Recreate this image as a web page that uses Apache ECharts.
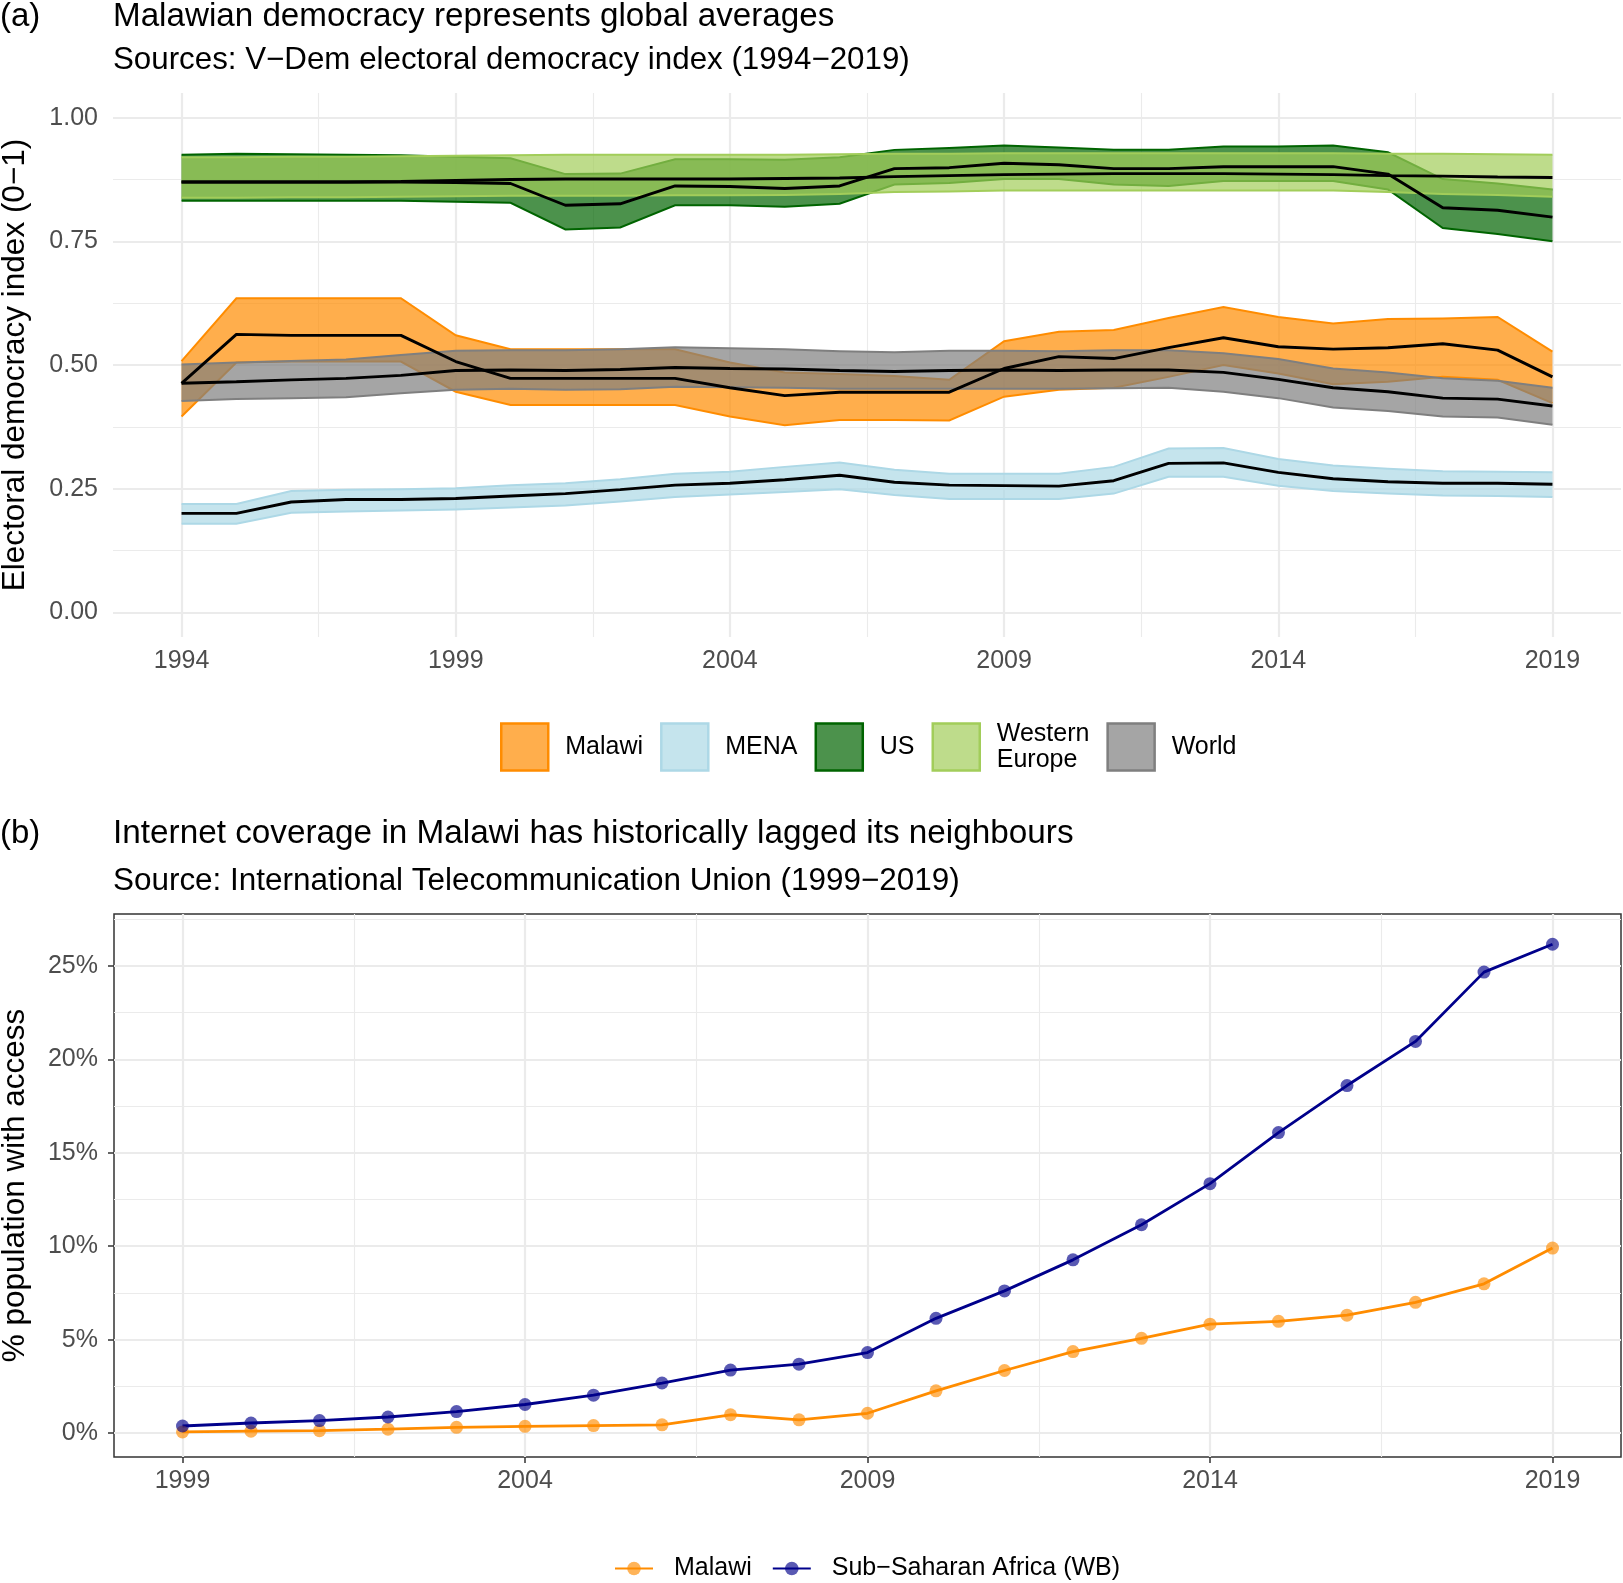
<!DOCTYPE html>
<html>
<head>
<meta charset="utf-8">
<script src="https://cdn.jsdelivr.net/npm/echarts@6/dist/echarts.min.js"></script>
<style>
  html, body { margin: 0; padding: 0; background: #fff; }
  #chart { width: 1623px; height: 1583px; }
</style>
</head>
<body>
<div id="chart"></div>
<script>
// ---- panel (a): V-Dem electoral democracy index, 1994-2019 ----
var years = [1994, 1995, 1996, 1997, 1998, 1999, 2000, 2001, 2002, 2003, 2004, 2005, 2006,
             2007, 2008, 2009, 2010, 2011, 2012, 2013, 2014, 2015, 2016, 2017, 2018, 2019];

var malawiLow = [0.396, 0.505, 0.507, 0.507, 0.507, 0.446, 0.419, 0.419, 0.419, 0.419, 0.396, 0.378, 0.389,
                 0.389, 0.388, 0.436, 0.450, 0.454, 0.476, 0.500, 0.483, 0.461, 0.466, 0.476, 0.470, 0.423];
var malawiMid = [0.463, 0.562, 0.560, 0.560, 0.560, 0.507, 0.473, 0.473, 0.473, 0.473, 0.454, 0.438, 0.445,
                 0.445, 0.445, 0.493, 0.517, 0.513, 0.535, 0.555, 0.537, 0.532, 0.535, 0.543, 0.530, 0.476];
var malawiHigh = [0.508, 0.635, 0.635, 0.635, 0.635, 0.560, 0.532, 0.532, 0.532, 0.532, 0.505, 0.485, 0.482,
                  0.478, 0.470, 0.548, 0.567, 0.571, 0.595, 0.617, 0.597, 0.584, 0.593, 0.594, 0.597, 0.527];

var menaLow = [0.179, 0.179, 0.201, 0.204, 0.206, 0.208, 0.212, 0.216, 0.224, 0.233, 0.238, 0.243, 0.249,
               0.237, 0.229, 0.229, 0.229, 0.240, 0.274, 0.274, 0.256, 0.245, 0.240, 0.236, 0.235, 0.233];
var menaMid = [0.200, 0.200, 0.223, 0.228, 0.228, 0.230, 0.235, 0.240, 0.248, 0.257, 0.261, 0.268, 0.277,
               0.263, 0.257, 0.256, 0.255, 0.266, 0.301, 0.302, 0.283, 0.270, 0.264, 0.261, 0.261, 0.259];
var menaHigh = [0.219, 0.219, 0.245, 0.248, 0.249, 0.251, 0.257, 0.261, 0.269, 0.280, 0.284, 0.294, 0.303,
                0.288, 0.280, 0.280, 0.280, 0.294, 0.331, 0.332, 0.310, 0.297, 0.290, 0.285, 0.284, 0.283];

var usLow = [0.832, 0.832, 0.832, 0.832, 0.832, 0.830, 0.828, 0.774, 0.778, 0.823, 0.823, 0.820, 0.826,
             0.865, 0.868, 0.876, 0.876, 0.865, 0.862, 0.872, 0.872, 0.872, 0.855, 0.777, 0.765, 0.750];
var usMid = [0.870, 0.870, 0.870, 0.870, 0.870, 0.869, 0.867, 0.823, 0.826, 0.862, 0.861, 0.857, 0.862,
             0.897, 0.899, 0.908, 0.905, 0.897, 0.897, 0.901, 0.901, 0.901, 0.886, 0.818, 0.813, 0.799];
var usHigh = [0.925, 0.927, 0.926, 0.925, 0.924, 0.921, 0.918, 0.886, 0.887, 0.916, 0.916, 0.915, 0.920,
              0.935, 0.939, 0.944, 0.940, 0.935, 0.935, 0.942, 0.942, 0.944, 0.930, 0.876, 0.867, 0.855];

var weLow = [0.838, 0.838, 0.839, 0.839, 0.840, 0.841, 0.842, 0.842, 0.842, 0.843, 0.843, 0.844, 0.846,
             0.850, 0.851, 0.853, 0.853, 0.853, 0.853, 0.853, 0.853, 0.853, 0.850, 0.846, 0.844, 0.840];
var weMid = [0.870, 0.870, 0.870, 0.870, 0.871, 0.873, 0.875, 0.876, 0.876, 0.876, 0.876, 0.877, 0.878,
             0.881, 0.883, 0.885, 0.886, 0.887, 0.887, 0.887, 0.886, 0.885, 0.883, 0.882, 0.880, 0.879];
var weHigh = [0.920, 0.920, 0.921, 0.921, 0.922, 0.923, 0.924, 0.925, 0.925, 0.925, 0.925, 0.925, 0.926,
              0.927, 0.927, 0.928, 0.928, 0.928, 0.928, 0.928, 0.928, 0.928, 0.927, 0.927, 0.926, 0.925];

var worldLow = [0.427, 0.431, 0.433, 0.435, 0.443, 0.450, 0.452, 0.450, 0.451, 0.456, 0.455, 0.454, 0.452,
                0.452, 0.452, 0.452, 0.452, 0.453, 0.454, 0.446, 0.433, 0.414, 0.407, 0.396, 0.394, 0.379];
var worldMid = [0.463, 0.466, 0.470, 0.473, 0.479, 0.489, 0.490, 0.489, 0.491, 0.495, 0.493, 0.492, 0.489,
                0.487, 0.489, 0.490, 0.489, 0.490, 0.490, 0.485, 0.471, 0.454, 0.446, 0.433, 0.431, 0.417];
var worldHigh = [0.501, 0.505, 0.508, 0.511, 0.520, 0.529, 0.530, 0.530, 0.532, 0.536, 0.534, 0.532, 0.528,
                 0.526, 0.529, 0.529, 0.528, 0.530, 0.530, 0.524, 0.512, 0.493, 0.485, 0.473, 0.468, 0.454];

var regions = ['Malawi', 'MENA', 'US', 'Western Europe', 'World'];
var yearTicksA = [1994, 1999, 2004, 2009, 2014, 2019];
var yearMinorA = [1996.5, 2001.5, 2006.5, 2011.5, 2016.5];
var indexTicks = [0, 0.25, 0.5, 0.75, 1];
var indexMinor = [0.125, 0.375, 0.625, 0.875];

// ---- panel (b): ITU internet coverage, 1999-2019 ----
var netYears = [1999, 2000, 2001, 2002, 2003, 2004, 2005, 2006, 2007, 2008, 2009,
                2010, 2011, 2012, 2013, 2014, 2015, 2016, 2017, 2018, 2019];
var malawiNet = [0.06, 0.10, 0.13, 0.21, 0.31, 0.36, 0.40, 0.44, 0.98, 0.71, 1.06,
                 2.26, 3.35, 4.36, 5.07, 5.83, 5.98, 6.31, 7.00, 7.99, 9.90];
var ssaNet = [0.38, 0.54, 0.67, 0.86, 1.15, 1.53, 2.03, 2.68, 3.37, 3.69, 4.31,
              6.14, 7.61, 9.27, 11.15, 13.35, 16.08, 18.60, 20.96, 24.67, 26.16];
var yearTicksB = [1999, 2004, 2009, 2014, 2019];
var yearMinorB = [2001.5, 2006.5, 2011.5, 2016.5];
var pctTicks = [0, 5, 10, 15, 20, 25];
var pctMinor = [2.5, 7.5, 12.5, 17.5, 22.5, 27.5];

// colours
var borderCol = { 'Malawi': '#FF8C00', 'MENA': '#ADD8E6', 'US': '#006400', 'Western Europe': '#A2CD5A', 'World': '#7F7F7F' };
var fillCol = { 'Malawi': 'rgba(255,140,0,0.7)', 'MENA': 'rgba(173,216,230,0.7)', 'US': 'rgba(0,100,0,0.7)',
                'Western Europe': 'rgba(162,205,90,0.7)', 'World': 'rgba(127,127,127,0.7)' };
var bands = {
    'Malawi': [malawiLow, malawiMid, malawiHigh],
    'MENA': [menaLow, menaMid, menaHigh],
    'US': [usLow, usMid, usHigh],
    'Western Europe': [weLow, weMid, weHigh],
    'World': [worldLow, worldMid, worldHigh]
};

var font = 'Liberation Sans, Arial, Helvetica, sans-serif';
var gridCol = '#EBEBEB';

function pairs(xs, ys) {
    return xs.map(function (x, i) { return [x, ys[i]]; });
}

// ribbon between low and high, drawn through the axis scales
function ribbon(r) {
    var b = bands[r];
    return {
        name: r, type: 'custom', xAxisIndex: 0, yAxisIndex: 0, silent: true,
        data: years.map(function (y, i) { return [y, b[0][i], b[2][i]]; }),
        encode: { x: 0, y: [1, 2] },
        itemStyle: { color: fillCol[r] },
        renderItem: function (params, api) {
            if (params.dataIndex !== 0) return null;
            var hi = [], lo = [];
            for (var i = 0; i < years.length; i++) {
                hi.push(api.coord([years[i], b[2][i]]));
                lo.push(api.coord([years[i], b[0][i]]));
            }
            return {
                type: 'group',
                children: [
                    { type: 'polygon', shape: { points: hi.concat(lo.slice().reverse()) },
                      style: { fill: fillCol[r], stroke: null } },
                    { type: 'polyline', shape: { points: hi },
                      style: { fill: null, stroke: borderCol[r], lineWidth: 2 } },
                    { type: 'polyline', shape: { points: lo },
                      style: { fill: null, stroke: borderCol[r], lineWidth: 2 } }
                ]
            };
        }
    };
}

var series = [];
regions.forEach(function (r) { series.push(ribbon(r)); });
// central estimates
regions.forEach(function (r) {
    series.push({
        name: r + ' estimate', type: 'line', xAxisIndex: 0, yAxisIndex: 0,
        data: pairs(years, bands[r][1]), symbol: 'none', silent: true,
        lineStyle: { color: '#000', width: 2.9 }
    });
});
// internet coverage
series.push({
    name: 'Malawi internet', type: 'line', xAxisIndex: 2, yAxisIndex: 2,
    data: pairs(netYears, malawiNet), symbol: 'circle', symbolSize: 13,
    itemStyle: { color: 'rgba(255,140,0,0.65)' },
    lineStyle: { color: '#FF8C00', width: 2.8 }
});
series.push({
    name: 'Sub\u2212Saharan Africa (WB)', type: 'line', xAxisIndex: 2, yAxisIndex: 2,
    data: pairs(netYears, ssaNet), symbol: 'circle', symbolSize: 13,
    itemStyle: { color: 'rgba(0,0,139,0.65)' },
    lineStyle: { color: '#00008B', width: 2.8 }
});

var tickLabel = { color: '#4D4D4D', fontSize: 25, fontFamily: font };

function majorX(grid, min, max, ticks, showTick) {
    return {
        type: 'value', gridIndex: grid, min: min, max: max,
        axisLine: { show: false, onZero: false },
        axisTick: { show: showTick, length: 6, customValues: ticks, lineStyle: { color: '#333333', width: 1.5 } },
        axisLabel: Object.assign({ customValues: ticks, margin: 12,
                                   formatter: function (v) { return String(v); } }, tickLabel),
        splitLine: { show: true, lineStyle: { color: gridCol, width: 2.2 } }
    };
}
function minorAxis(type, grid, min, max, ticks) {
    return {
        type: 'value', gridIndex: grid, min: min, max: max,
        axisLine: { show: false, onZero: false },
        axisTick: { show: false, customValues: ticks },
        axisLabel: { show: false },
        splitLine: { show: true, lineStyle: { color: gridCol, width: 1.1 } }
    };
}

var option = {
    animation: false,
    backgroundColor: '#fff',
    textStyle: { fontFamily: font },
    title: [
        { text: '(a)', left: 0, top: 0, padding: 0, textStyle: { fontSize: 33, fontWeight: 'normal', color: '#000', lineHeight: 33 } },
        { text: 'Malawian democracy represents global averages', left: 113, top: 0, padding: 0,
          textStyle: { fontSize: 33.2, fontWeight: 'normal', color: '#000', lineHeight: 33 } },
        { text: 'Sources: V\u2212Dem electoral democracy index (1994\u22122019)', left: 113, top: 45, padding: 0,
          textStyle: { fontSize: 31.3, fontWeight: 'normal', color: '#000', lineHeight: 31 } },
        { text: '(b)', left: 0, top: 817, padding: 0, textStyle: { fontSize: 33, fontWeight: 'normal', color: '#000', lineHeight: 33 } },
        { text: 'Internet coverage in Malawi has historically lagged its neighbours', left: 113, top: 817, padding: 0,
          textStyle: { fontSize: 33.3, fontWeight: 'normal', color: '#000', lineHeight: 33 } },
        { text: 'Source: International Telecommunication Union (1999\u22122019)', left: 113, top: 866, padding: 0,
          textStyle: { fontSize: 31.45, fontWeight: 'normal', color: '#000', lineHeight: 31 } }
    ],
    legend: [
        {
            left: 500, top: 721, padding: 0, orient: 'horizontal',
            itemWidth: 47, itemHeight: 47, itemGap: 17,
            selectedMode: false,
            data: regions.map(function (r) {
                return { name: r, icon: 'rect',
                         itemStyle: { color: fillCol[r], borderColor: borderCol[r], borderWidth: 2.5 } };
            }),
            formatter: function (n) { return n === 'Western Europe' ? 'Western\nEurope' : n; },
            textStyle: { fontSize: 25, color: '#000', lineHeight: 26, padding: [0, 0, 0, 12] }
        },
        {
            left: 614, top: 1556, padding: 0, orient: 'horizontal',
            itemWidth: 38, itemHeight: 17, itemGap: 20,
            selectedMode: false,
            data: ['Malawi internet', 'Sub\u2212Saharan Africa (WB)'],
            formatter: function (n) { return n === 'Malawi internet' ? 'Malawi' : n; },
            textStyle: { fontSize: 25, color: '#000', padding: [0, 0, 0, 16] }
        }
    ],
    grid: [
        { left: 113, top: 93, width: 1508, height: 544, outerBoundsMode: 'none', containLabel: false },
        { left: 114, top: 914, width: 1507, height: 543, outerBoundsMode: 'none', containLabel: false,
          show: true, borderColor: '#333333', borderWidth: 1.5, backgroundColor: 'transparent' }
    ],
    xAxis: [
        majorX(0, 1992.75, 2020.25, yearTicksA, false),
        minorAxis('x', 0, 1992.75, 2020.25, yearMinorA),
        majorX(1, 1998, 2020, yearTicksB, true),
        minorAxis('x', 1, 1998, 2020, yearMinorB)
    ],
    yAxis: [
        { type: 'value', gridIndex: 0, min: -0.05, max: 1.05,
          name: 'Electoral democracy index (0\u22121)', nameLocation: 'middle', nameGap: 82, nameRotate: 90,
          nameTextStyle: { fontSize: 31.5, color: '#000', fontFamily: font },
          axisLine: { show: false, onZero: false },
          axisTick: { show: false, customValues: indexTicks },
          axisLabel: Object.assign({ customValues: indexTicks, margin: 15,
                                     formatter: function (v) { return v.toFixed(2); } }, tickLabel),
          splitLine: { show: true, lineStyle: { color: gridCol, width: 2.2 } } },
        minorAxis('y', 0, -0.05, 1.05, indexMinor),
        { type: 'value', gridIndex: 1, min: -1.28, max: 27.78,
          name: '% population with access', nameLocation: 'middle', nameGap: 83, nameRotate: 90,
          nameTextStyle: { fontSize: 31.5, color: '#000', fontFamily: font },
          axisLine: { show: false, onZero: false },
          axisTick: { show: true, length: 6, customValues: pctTicks, lineStyle: { color: '#333333', width: 1.5 } },
          axisLabel: Object.assign({ customValues: pctTicks, margin: 16,
                                     formatter: function (v) { return v + '%'; } }, tickLabel),
          splitLine: { show: true, lineStyle: { color: gridCol, width: 2.2 } } },
        minorAxis('y', 1, -1.28, 27.78, pctMinor)
    ],
    series: series
};

var myChart = echarts.init(document.getElementById('chart'), null, { renderer: 'canvas' });
myChart.setOption(option);
</script>
</body>
</html>
